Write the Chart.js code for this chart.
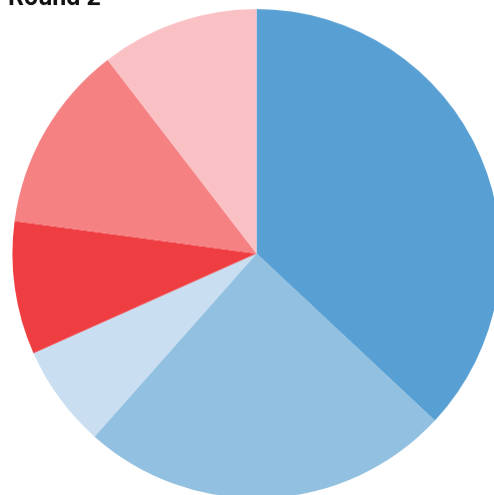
<!DOCTYPE html>
<html>
<head>
<meta charset="utf-8">
<title>Round 2</title>
<script src="https://cdn.jsdelivr.net/npm/chart.js@4/dist/chart.umd.min.js"></script>
<style>
  html, body { margin: 0; padding: 0; background: #ffffff; }
  body { width: 494px; height: 495px; overflow: hidden; position: relative; }
  #wrap { position: absolute; left: 8px; top: -10.7px; width: 497px; height: 508.2px; }
</style>
</head>
<body>
<div id="wrap"><canvas id="chart"></canvas></div>
<script>
// Share of votes per option in the second round
const categories = ['Option A', 'Option B', 'Option C', 'Option D', 'Option E', 'Option F'];
const shares = [36.96, 24.59, 6.78, 8.81, 12.42, 10.44];
const sliceColors = ['#58a0d4', '#92c0e0', '#c9def1', '#ef3e42', '#f58183', '#fac1c4'];
const chartTitle = 'Round 2';

new Chart(document.getElementById('chart'), {
  type: 'pie',
  data: {
    labels: categories,
    datasets: [{
      data: shares,
      backgroundColor: sliceColors,
      borderWidth: 0,
      hoverOffset: 0
    }]
  },
  options: {
    responsive: true,
    maintainAspectRatio: false,
    animation: false,
    layout: { padding: 0 },
    plugins: {
      legend: { display: false },
      tooltip: { enabled: false },
      title: {
        display: true,
        text: chartTitle,
        align: 'start',
        color: '#111111',
        font: { family: 'Roboto', size: 25, weight: 'bold', lineHeight: 0.8 },
        padding: { top: 0, bottom: 0 }
      }
    }
  }
});
</script>
</body>
</html>
